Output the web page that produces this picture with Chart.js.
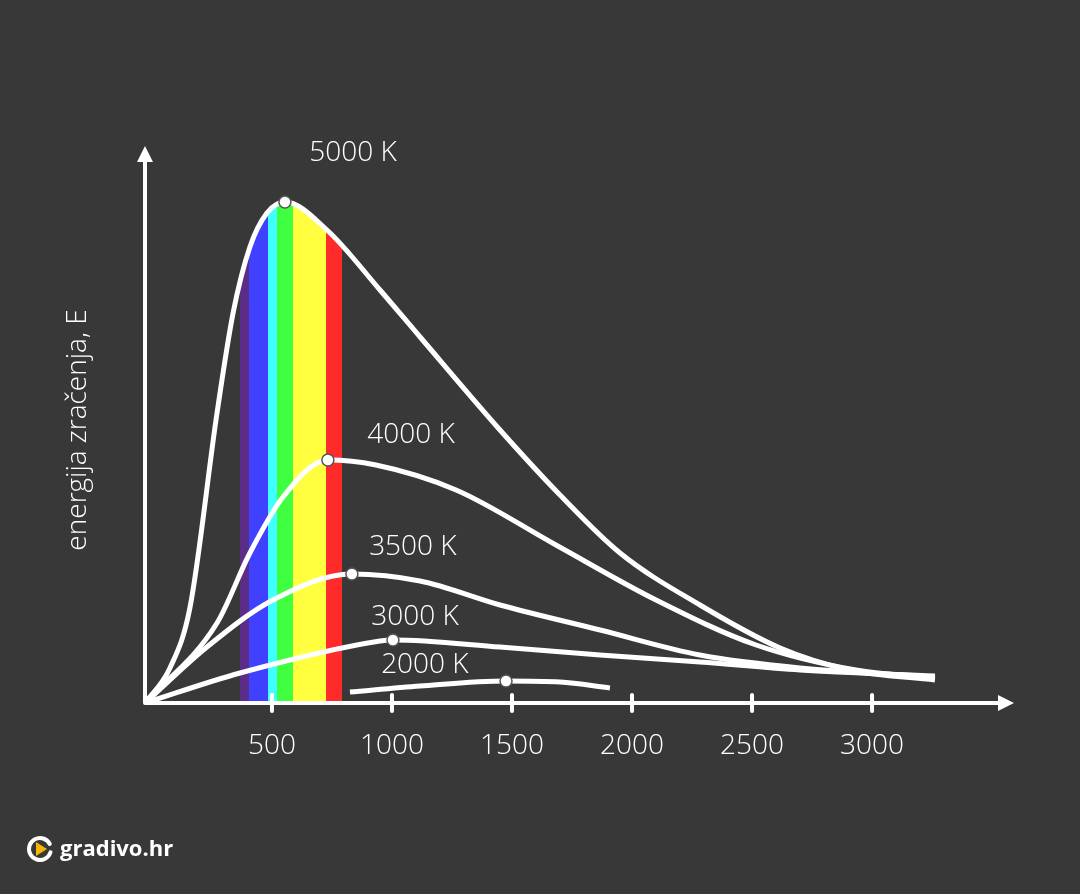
<!DOCTYPE html>
<html><head><meta charset="utf-8">
<script src="https://cdn.jsdelivr.net/npm/chart.js@4"></script>
<style>html,body{margin:0;background:#383838;}#w{width:1080px;height:894px;position:relative}</style>
</head><body><div id="w"><canvas id="c"></canvas></div>
<script>
// wavelength (nm) vs energy (arbitrary units)
const x5000=[-29,75,158,271,338,408,479,554,729,950,1117,1450,1700,1950,2283,2617,2908,3262];
const y5000=[0,35,95,290,390,456,490,501,473,413,366,273,208,150,98,55,33,23];
const x4000=[-29,271,408,546,733,933,1267,1683,2100,2517,2933,3262];
const y4000=[0,80,150,206,243,238,213,158,103,58,33,25];
const x3500=[-29,229,504,833,1117,1450,1867,2283,2700,3262];
const y3500=[0,56,103,129,122,98,73,48,35,26];
const x3000=[-29,367,950,1004,1450,1867,2283,2700,3262];
const y3000=[0,30,62,63,56,48,41,33,27];
const x2000=[825,1117,1475,1700,1908];
const y2000=[11,17,22,21,15];
const curveLabels=['5000 K','4000 K','3500 K','3000 K','2000 K'];
const labelPos=[[838,550],[1079,268],[1087,156],[1096,86],[1137,38]];
const xTicks=[500,1000,1500,2000,2500,3000];
const yTitle='energija zračenja, E';
const bands=[[367,'rgba(0,0,0,0)'],[367,'#5b2d86'],[404,'#5b2d86'],[404,'#4040ff'],[483,'#4040ff'],[483,'#40ffff'],[521,'#40ffff'],[521,'#40ff40'],[588,'#40ff40'],[588,'#ffff40'],[725,'#ffff40'],[725,'#ff2a2a'],[792,'#ff2a2a'],[792,'rgba(0,0,0,0)']];

const mk=(xs,ys,pi,extra)=>Object.assign({data:xs.map((x,i)=>({x,y:ys[i]})),borderColor:'#fff',borderWidth:5,
  cubicInterpolationMode:'monotone',pointRadius:xs.map((_,i)=>i===pi?6:0),pointBackgroundColor:'#fff',
  pointBorderColor:'#555',pointBorderWidth:1.5,fill:false},extra||{});

const deco={id:'deco',afterDraw(ch){
  const c=ch.ctx,xs=ch.scales.x,ys=ch.scales.y,a=ch.chartArea;
  c.save();c.strokeStyle='#fff';c.fillStyle='#fff';c.lineWidth=4;c.lineCap='round';
  const ox=a.left,oy=a.bottom;
  c.beginPath();c.moveTo(ox,oy);c.lineTo(a.right-4,oy);c.moveTo(ox,oy);c.lineTo(ox,a.top+4);c.stroke();
  c.beginPath();c.moveTo(a.right+2,oy);c.lineTo(a.right-14,oy-8);c.lineTo(a.right-14,oy+8);c.fill();
  c.beginPath();c.moveTo(ox,a.top-2);c.lineTo(ox-8,a.top+14);c.lineTo(ox+8,a.top+14);c.fill();
  c.font='300 28px "Open Sans"';c.textAlign='center';c.textBaseline='middle';
  xTicks.forEach(t=>{const px=xs.getPixelForValue(t);c.beginPath();c.moveTo(px,oy-8);c.lineTo(px,oy+8);c.stroke();
    c.fillText(String(t),px,oy+43);});
  curveLabels.forEach((l,i)=>c.fillText(l,xs.getPixelForValue(labelPos[i][0]),ys.getPixelForValue(labelPos[i][1])));
  c.save();c.translate(78,430);c.rotate(-Math.PI/2);c.fillText(yTitle,0,0);c.restore();
  c.lineWidth=4;c.strokeStyle='#fff';c.beginPath();c.arc(40,849,11,0.3,Math.PI*1.85);c.stroke();
  c.fillStyle='#f5b800';c.beginPath();c.moveTo(36,842);c.lineTo(47,849);c.lineTo(36,856);c.fill();
  c.fillStyle='#fff';c.font='bold 22px "Open Sans"';c.textAlign='left';c.fillText('gradivo.hr',60,850);
  c.restore();}};

new Chart(document.getElementById('c'),{type:'line',
 data:{datasets:[
  mk(x5000,y5000,7,{fill:'origin',backgroundColor:(ctx)=>{const ch=ctx.chart;if(!ch.chartArea)return 'rgba(0,0,0,0)';
    const xs=ch.scales.x,l=xs.getPixelForValue(-29),r=xs.getPixelForValue(3583);
    const g=ch.ctx.createLinearGradient(l,0,r,0);bands.forEach(([v,col])=>g.addColorStop((xs.getPixelForValue(v)-l)/(r-l),col));return g;}}),
  mk(x4000,y4000,4),mk(x3500,y3500,3),mk(x3000,y3000,3),mk(x2000,y2000,2)]},
 options:{responsive:true,maintainAspectRatio:false,animation:false,
  layout:{padding:{left:145,right:68,top:148,bottom:191}},
  plugins:{legend:{display:false},tooltip:{enabled:false},filler:{drawTime:'beforeDatasetsDraw'}},
  scales:{x:{type:'linear',min:-29,max:3583,display:false},y:{min:0,max:555,display:false}}},
 plugins:[deco]});
</script></body></html>
